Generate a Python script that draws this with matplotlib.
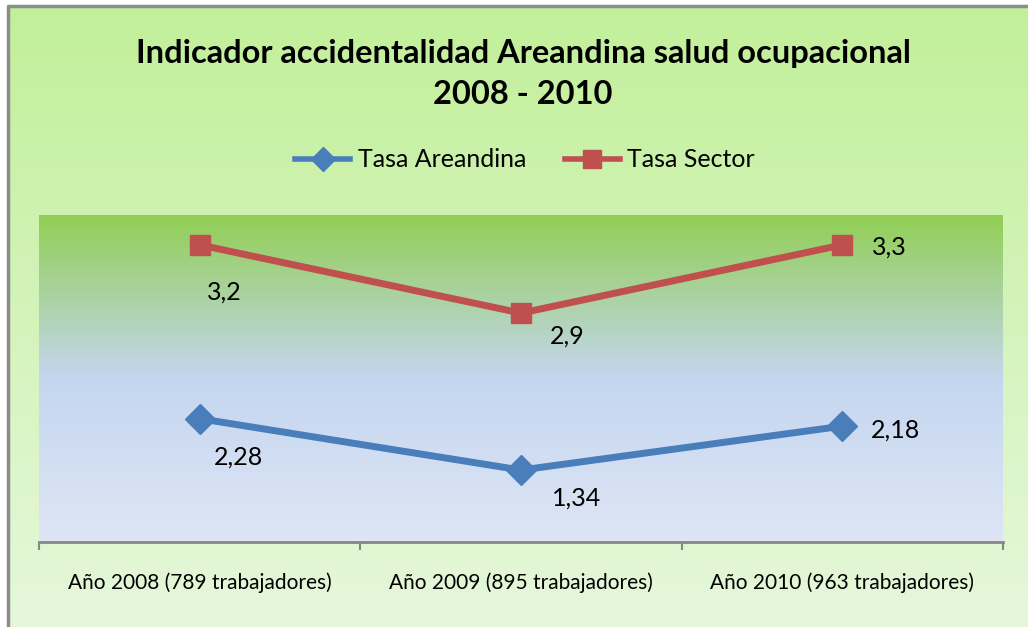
import numpy as np
import matplotlib.pyplot as plt
from matplotlib.lines import Line2D
from matplotlib.patches import Rectangle

# Datos del gráfico
categorias = ['Año 2008 (789 trabajadores)', 'Año 2009 (895 trabajadores)',
              'Año 2010 (963 trabajadores)']
tasa_areandina = ['2,28', '1,34', '2,18']
tasa_sector = ['3,2', '2,9', '3,3']
# Alturas de los puntos tal como aparecen en el gráfico original (eje oculto 0-3.5)
pos_areandina = [1.32, 0.77, 1.24]
pos_sector = [3.18, 2.45, 3.18]

azul = '#4a7ebb'
rojo = '#c0504d'
fuente = 'Lato'
W, H = 1028, 627

fig = plt.figure(figsize=(W / 100, H / 100), dpi=100)

# Fondo del gráfico (degradado verde claro)
bg = fig.add_axes([0, 0, 1, 1], zorder=-10)
grad = np.linspace(0, 1, 256).reshape(-1, 1)
top = np.array([0.76, 0.94, 0.60])
bot = np.array([0.90, 0.97, 0.86])
img = top + (bot - top) * grad[:, :, None]
bg.imshow(img, aspect='auto', extent=[0, 1, 0, 1], origin='upper')
bg.set_xlim(0, 1)
bg.set_ylim(0, 1)
bg.axis('off')
# zona blanca fuera del marco
bg.add_patch(Rectangle((0, 0), 8 / W, 1, color='white', zorder=2))
bg.add_patch(Rectangle((0, 1 - 6 / H), 1, 6 / H, color='white', zorder=2))
# marco gris
bg.plot([8 / W, 8 / W, 1], [0, 1 - 6 / H, 1 - 6 / H], color='#8c8c8c', lw=2.5, zorder=3)

# Área de trazado
ax = fig.add_axes([39 / W, (H - 542) / H, (1003 - 39) / W, (542 - 215) / H])
ax.set_xlim(-0.5, 2.5)
ax.set_ylim(0, 3.5)

stops = [(0.0, (0.57, 0.81, 0.33)), (0.5, (0.77, 0.84, 0.94)), (1.0, (0.87, 0.90, 0.96))]
t = np.linspace(0, 1, 256)
cols = np.zeros((256, 3))
for c in range(3):
    cols[:, c] = np.interp(t, [s[0] for s in stops], [s[1][c] for s in stops])
ax.imshow(cols[:, None, :], aspect='auto', extent=[-0.5, 2.5, 0, 3.5], origin='upper', zorder=0)

x = np.arange(len(categorias))
ax.plot(x, pos_sector, color=rojo, lw=5, marker='s', markersize=15, zorder=3)
ax.plot(x, pos_areandina, color=azul, lw=5, marker='D', markersize=15, zorder=3)

# Etiquetas de datos
desp_sector = [(7, -47), (29, -23), (30, -2)]
desp_areandina = [(14, -38), (31, -28), (29, -4)]
for i in range(len(x)):
    ax.annotate(tasa_sector[i], (x[i], pos_sector[i]), xytext=desp_sector[i],
                textcoords='offset pixels', ha='left', va='center',
                fontsize=18, family=fuente)
    ax.annotate(tasa_areandina[i], (x[i], pos_areandina[i]), xytext=desp_areandina[i],
                textcoords='offset pixels', ha='left', va='center',
                fontsize=18, family=fuente)

# Ejes
for s in ['top', 'right', 'left']:
    ax.spines[s].set_visible(False)
ax.spines['bottom'].set_color('#868686')
ax.spines['bottom'].set_linewidth(2)
ax.set_yticks([])
ax.set_xticks([-0.5, 0.5, 1.5, 2.5], minor=False)
ax.set_xticklabels([])
ax.tick_params(axis='x', length=6, width=1.5, color='#868686')
ax.set_xticks(x, minor=True)
ax.set_xticklabels(categorias, minor=True, fontsize=15, family=fuente)
ax.tick_params(axis='x', which='minor', length=0, pad=22)

# Título
fig.text(523 / W, 1 - 53 / H, 'Indicador accidentalidad Areandina salud ocupacional',
         ha='center', va='center', fontsize=23.5, fontweight='bold', family=fuente)
fig.text(523 / W, 1 - 95 / H, '2008 - 2010',
         ha='center', va='center', fontsize=23.5, fontweight='bold', family=fuente)

# Leyenda
h1 = Line2D([], [], color=azul, lw=4, marker='D', markersize=12)
h2 = Line2D([], [], color=rojo, lw=4, marker='s', markersize=13)
fig.legend([h1, h2], ['Tasa Areandina', 'Tasa Sector'], loc='center',
           bbox_to_anchor=(525 / W, 1 - 160 / H), ncol=2, frameon=False,
           prop={'family': fuente, 'size': 18}, handlelength=2.2, columnspacing=1.55,
           handletextpad=0.3)

fig.savefig('out.png', dpi=100)
